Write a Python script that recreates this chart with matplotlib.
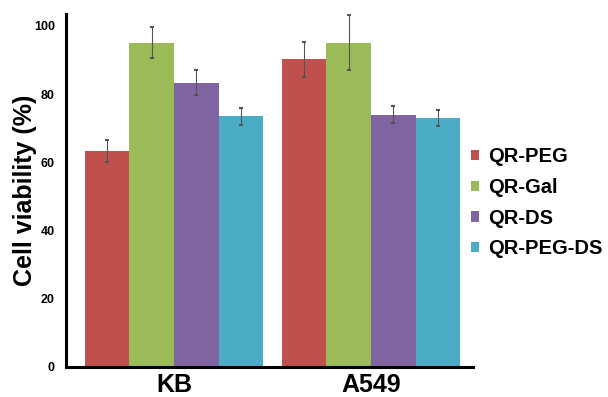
import numpy as np
import matplotlib
matplotlib.use("Agg")
from matplotlib import pyplot as plt

plt.rcParams["font.family"] = ["Liberation Sans", "DejaVu Sans"]
plt.rcParams["font.weight"] = "bold"

groups = ["KB", "A549"]
series = ["QR-PEG", "QR-Gal", "QR-DS", "QR-PEG-DS"]
colors = ["#C0504D", "#9BBB59", "#8064A2", "#4BACC6"]

viability = {
    "QR-PEG": [63.4, 90.2],
    "QR-Gal": [95.1, 95.1],
    "QR-DS": [83.4, 74.0],
    "QR-PEG-DS": [73.5, 73.0],
}
errors = {
    "QR-PEG": [3.3, 5.2],
    "QR-Gal": [4.5, 8.0],
    "QR-DS": [3.7, 2.6],
    "QR-PEG-DS": [2.4, 2.3],
}

fig = plt.figure(figsize=(6.08, 3.97), dpi=100)
ax = fig.add_axes([0.1086, 0.0756, 0.778 - 0.1086, 0.9647 - 0.0756])

x = np.arange(len(groups))
width = 0.226
for i, (name, color) in enumerate(zip(series, colors)):
    pos = x + (i - 1.5) * width
    ax.bar(pos, viability[name], width, color=color, label=name, zorder=2)
    ax.errorbar(pos, viability[name], yerr=errors[name], fmt="none",
                ecolor="#555555", elinewidth=0.8, capsize=1.2, capthick=1.5,
                zorder=3)

ax.set_xlim(-0.548, 1.518)
ax.set_ylim(0, 103.5)
ax.set_yticks([0, 20, 40, 60, 80, 100])
ax.set_xticks(x)
ax.set_xticklabels(groups, fontsize=18, fontweight="bold")
ax.tick_params(axis="y", length=0, pad=8, labelsize=9)
ax.tick_params(axis="x", length=0, pad=4)
for label in ax.get_yticklabels():
    label.set_fontweight("bold")

for side in ["top", "right"]:
    ax.spines[side].set_visible(False)
ax.spines["left"].set_linewidth(2.2)
ax.spines["bottom"].set_linewidth(2.2)

ax.set_ylabel("Cell viability (%)", fontsize=18, fontweight="bold", labelpad=-2)

ax.legend(loc="center left", bbox_to_anchor=(0.995, 0.465), frameon=False,
          prop={"size": 14.5, "weight": "bold"}, handlelength=0.4,
          handleheight=0.4, handletextpad=0.45, labelspacing=0.58,
          borderpad=0, borderaxespad=0)

fig.savefig("out.png", dpi=100)
